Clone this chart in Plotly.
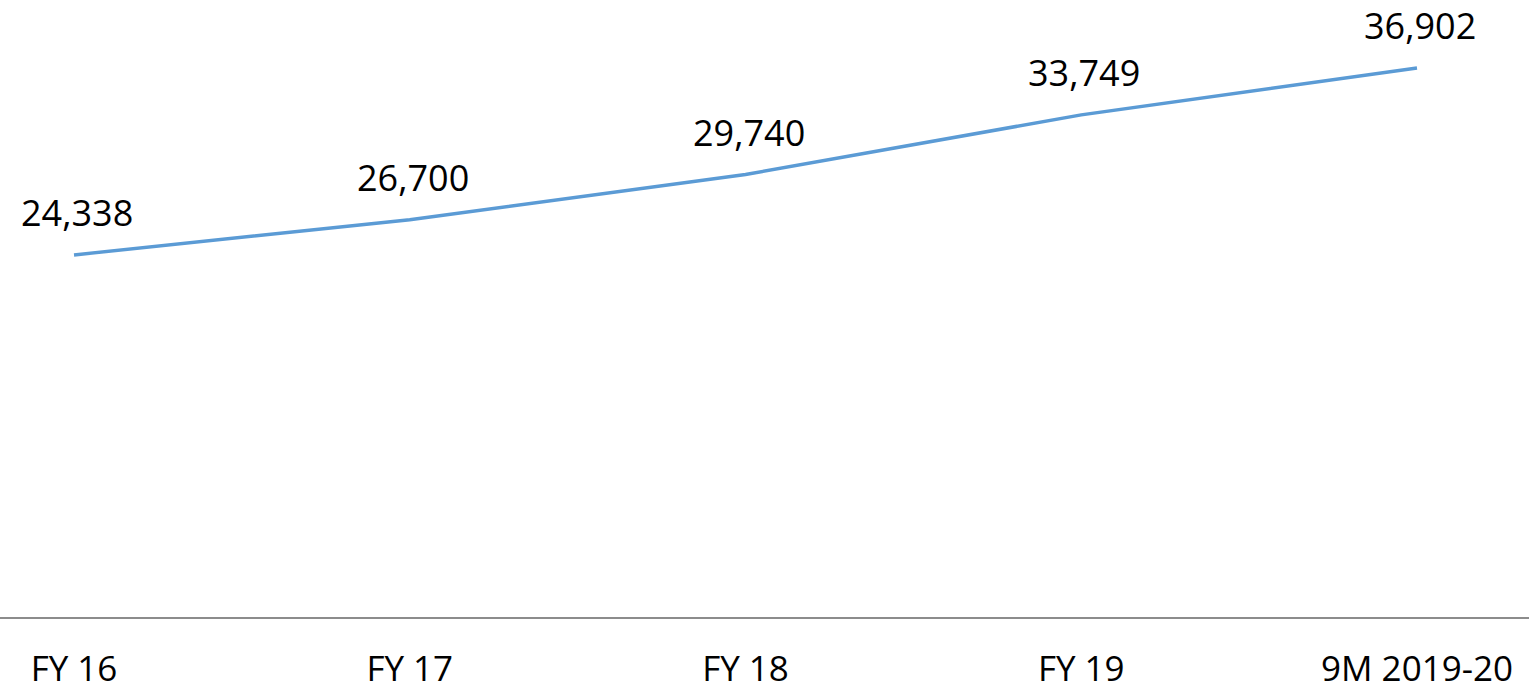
import plotly.graph_objects as go

categories = ["FY 16", "FY 17", "FY 18", "FY 19", "9M 2019-20"]
values = [24338, 26700, 29740, 33749, 36902]
labels = ["24,338", "26,700", "29,740", "33,749", "36,902"]

FONT = "Open Sans"

fig = go.Figure()
fig.add_trace(go.Scatter(
    x=categories, y=values, mode="lines",
    line=dict(color="#5B9BD5", width=3.5),
    hoverinfo="skip", showlegend=False, cliponaxis=False,
))

for c, v, t in zip(categories, values, labels):
    fig.add_annotation(x=c, y=v, text=t, showarrow=False,
                       xanchor="center", yanchor="middle", yshift=42, xshift=3,
                       font=dict(family=FONT, size=36, color="#000000"))

fig.update_layout(
    width=1529, height=692,
    margin=dict(l=0, r=0, t=0, b=75, autoexpand=False),
    paper_bgcolor="white", plot_bgcolor="white",
    font=dict(family=FONT, size=36, color="#000000"),
    xaxis=dict(
        type="category", range=[-0.2204, 4.3336],
        showgrid=False, zeroline=False, automargin=False,
        showline=True, linecolor="#8c8c8c", linewidth=1.5,
        ticks="", ticklabelstandoff=20,
        tickfont=dict(family=FONT, size=35, color="#000000"),
    ),
    yaxis=dict(
        range=[0, 41470], visible=False, showgrid=False, zeroline=False,
        automargin=False,
    ),
)

fig.write_html(
    "out.html",
    config={"displayModeBar": False},
    post_script="document.body.style.margin='0';document.body.style.overflow='hidden';",
)
